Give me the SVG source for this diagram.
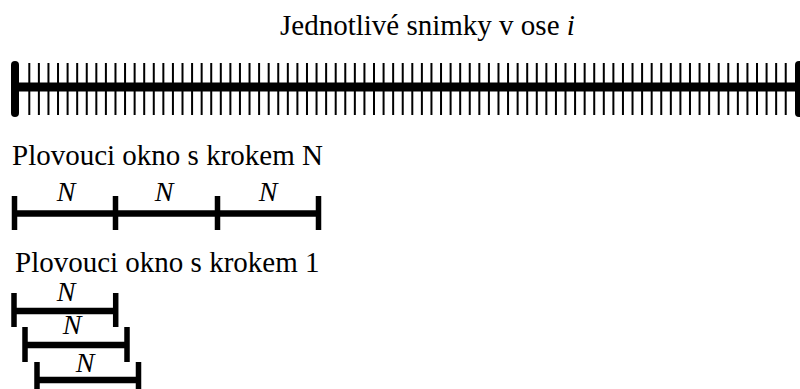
<svg xmlns="http://www.w3.org/2000/svg" width="800" height="389" viewBox="0 0 800 389">
<style>
text { font-family: "Times New Roman", Tinos, "Liberation Serif", "DejaVu Serif", "Noto Serif", FreeSerif, serif; fill: #000; }
.t { font-size: 29px; }
.n { font-size: 28px; font-style: italic; text-anchor: middle; }
.bar { stroke: #000; fill: none; stroke-width: 6.5; }
.tk { stroke: #000; fill: none; stroke-width: 5.5; }
</style>
<rect width="800" height="389" fill="#fff"/>
<g id="axis">
<text class="t" x="280" y="35" font-size="28">Jednotlivé snimky v ose <tspan font-style="italic">i</tspan></text>
<line x1="15" y1="87" x2="799" y2="87" stroke="#000" stroke-width="9"/>
<line x1="15" y1="65" x2="15" y2="113" stroke="#000" stroke-width="8" stroke-linecap="round"/>
<line x1="799" y1="65" x2="799" y2="113" stroke="#000" stroke-width="8" stroke-linecap="round"/>
<path stroke="#000" stroke-width="2" fill="none" d="M29.3 63V115M38.88 63V115M48.45 63V115M58.03 63V115M67.6 63V115M77.18 63V115M86.75 63V115M96.33 63V115M105.9 63V115M115.48 63V115M125.05 63V115M134.63 63V115M144.2 63V115M153.78 63V115M163.35 63V115M172.93 63V115M182.5 63V115M192.08 63V115M201.65 63V115M211.23 63V115M220.8 63V115M230.38 63V115M239.95 63V115M249.53 63V115M259.1 63V115M268.68 63V115M278.25 63V115M287.83 63V115M297.4 63V115M306.98 63V115M316.55 63V115M326.13 63V115M335.7 63V115M345.28 63V115M354.85 63V115M364.43 63V115M374 63V115M383.58 63V115M393.15 63V115M402.73 63V115M412.3 63V115M421.88 63V115M431.45 63V115M441.03 63V115M450.6 63V115M460.18 63V115M469.75 63V115M479.33 63V115M488.9 63V115M498.48 63V115M508.05 63V115M517.63 63V115M527.2 63V115M536.78 63V115M546.35 63V115M555.93 63V115M565.5 63V115M575.08 63V115M584.65 63V115M594.23 63V115M603.8 63V115M613.38 63V115M622.95 63V115M632.53 63V115M642.1 63V115M651.68 63V115M661.25 63V115M670.83 63V115M680.4 63V115M689.98 63V115M699.55 63V115M709.13 63V115M718.7 63V115M728.28 63V115M737.85 63V115M747.43 63V115M757 63V115M766.58 63V115M776.15 63V115M785.73 63V115"/>
</g>
<g id="step-n">
<text class="t" x="12" y="165">Plovouci okno s krokem N</text>
<path class="bar" d="M14.5 213.5H318.5"/>
<path class="tk" d="M14.5 196V230M115.5 196V230M217.5 196V230M318.5 196V230"/>
<text class="n" x="66" y="201">N</text>
<text class="n" x="164" y="201">N</text>
<text class="n" x="268" y="201">N</text>
</g>
<g id="step-1">
<text class="t" x="15" y="272">Plovouci okno s krokem 1</text>
<g id="win-a">
<path class="bar" d="M14 311H115.7"/>
<path class="tk" d="M14 293V327M115.7 293V327"/>
<text class="n" x="66" y="301">N</text>
</g>
<g id="win-b">
<path class="bar" d="M25 345H127"/>
<path class="tk" d="M25 327V362M127 327V362"/>
<text class="n" x="72" y="334">N</text>
</g>
<g id="win-c">
<path class="bar" d="M37 380H138.5"/>
<path class="tk" d="M37 362V397M138.5 362V397"/>
<text class="n" x="85" y="372">N</text>
</g>
</g>
</svg>
